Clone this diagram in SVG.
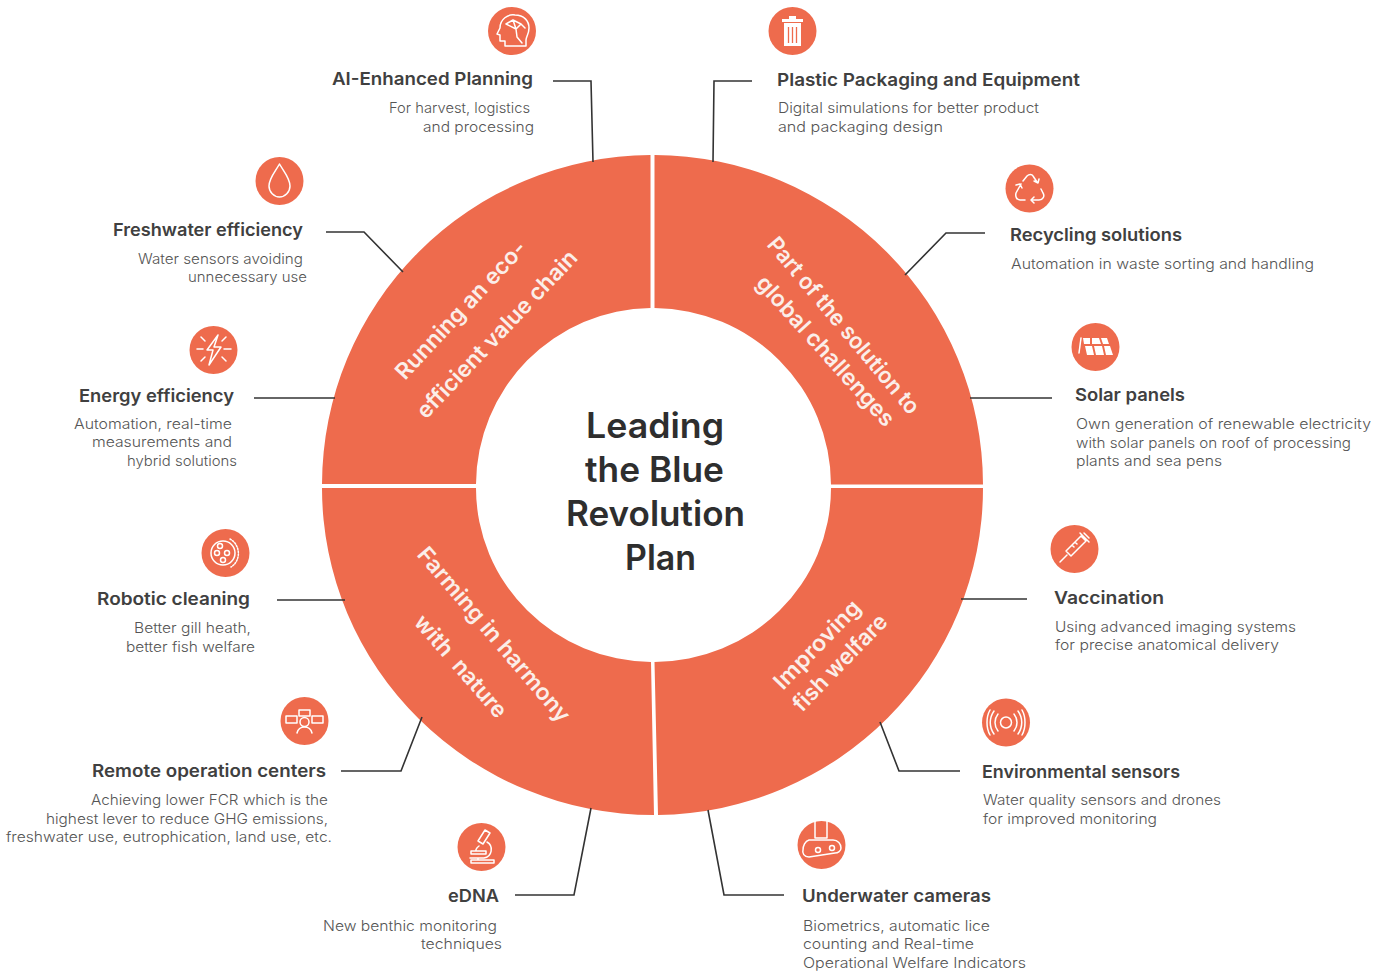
<svg xmlns="http://www.w3.org/2000/svg" width="1389" height="972" viewBox="0 0 1389 972">
<style>
text{font-family:"Inter","Lato","Liberation Sans",sans-serif}
.h{font-size:17.5px;font-weight:600;fill:#404040}
.b{font-size:14.5px;font-weight:300;fill:#555}
.c{font-size:35px;font-weight:600;fill:#2e2e2e}
.r{font-size:22.5px;font-weight:600;fill:#fbeee9}
.s{fill:#ee6b4d}
.d{fill:#ee6b4d}
.i{fill:none;stroke:#fff;stroke-width:1.5;stroke-linecap:round;stroke-linejoin:round}
.f{fill:#fff;stroke:none}
.l{fill:none;stroke:#333;stroke-width:1.6}
</style>
<rect width="1389" height="972" fill="#fff"/>
<g id="ring">
<path class="s" d="M322 484A331 330 0 0 1 650.500 155V308A177 177 0 0 0 476 484Z"/>
<path class="s" d="M654.500 155A330 330 0 0 1 983 484.500H831A178 177 0 0 0 654.500 308Z"/>
<path class="s" d="M983 488A330 327 0 0 1 658 815L654.500 662A177 174 0 0 0 831 488Z"/>
<path class="s" d="M654 815A332 327 0 0 1 322 488H476A177 174 0 0 0 651 662Z"/>
<text class="r" transform="translate(405 381) rotate(-47)" textLength="180" lengthAdjust="spacingAndGlyphs">Running an eco-</text>
<text class="r" transform="translate(426 420) rotate(-46.500)" textLength="222" lengthAdjust="spacingAndGlyphs">efficient value chain</text>
<text class="r" transform="translate(766 245) rotate(50)" textLength="223" lengthAdjust="spacingAndGlyphs">Part of the solution to</text>
<text class="r" transform="translate(755 284) rotate(48)" textLength="194" lengthAdjust="spacingAndGlyphs">global challenges</text>
<text class="r" transform="translate(416 555) rotate(49.500)" textLength="222" lengthAdjust="spacingAndGlyphs">Farming in harmony</text>
<text class="r" transform="translate(413 623) rotate(49)" textLength="128" lengthAdjust="spacingAndGlyphs" xml:space="preserve">with  nature</text>
<text class="r" transform="translate(783 691) rotate(-46)" textLength="114" lengthAdjust="spacingAndGlyphs">Improving</text>
<text class="r" transform="translate(802 713) rotate(-46)" textLength="125" lengthAdjust="spacingAndGlyphs">fish welfare</text>
</g>
<g id="center">
<text class="c" x="586" y="438" textLength="138" lengthAdjust="spacingAndGlyphs">Leading</text>
<text class="c" x="585" y="482" textLength="139" lengthAdjust="spacingAndGlyphs">the Blue</text>
<text class="c" x="566" y="526" textLength="179" lengthAdjust="spacingAndGlyphs">Revolution</text>
<text class="c" x="625" y="570" textLength="71" lengthAdjust="spacingAndGlyphs">Plan</text>
</g>
<g id="connectors">
<path class="l" d="M553 81H591L593 162"/>
<path class="l" d="M752 81H714L713 162"/>
<path class="l" d="M985 233H946L905 275"/>
<path class="l" d="M326 232H364L403 272"/>
<path class="l" d="M254 398H335"/>
<path class="l" d="M970 398H1052"/>
<path class="l" d="M277 600H345"/>
<path class="l" d="M961 599H1027"/>
<path class="l" d="M341 771H401L422 717"/>
<path class="l" d="M880 722L899 771H960"/>
<path class="l" d="M708 810L724 895H784"/>
<path class="l" d="M515 895H574L591 808"/>
</g>
<g id="ai-planning">
<circle class="d" cx="512" cy="31" r="24"/>
<path class="i" d="M505 46V41H500V35L497 34L500 28C500 19 508 14 515 15C524 15 529 21 529 28C529 34 526 37 526 40V46H505"/>
<path class="i" d="M506 24L513 20L521 24L516 29L506 24M516 29L517 37L522 43M513 20L516 29M521 24L525 28"/>
<text class="h" x="332" y="85" textLength="201" lengthAdjust="spacingAndGlyphs">AI-Enhanced Planning</text>
<text class="b" x="389" y="113" textLength="141" lengthAdjust="spacingAndGlyphs">For harvest, logistics</text>
<text class="b" x="423" y="132" textLength="111" lengthAdjust="spacingAndGlyphs">and processing</text>
</g>
<g id="plastic-packaging">
<circle class="d" cx="792.500" cy="31" r="24"/>
<path class="f" d="M782 19H789V16H796V19H803V22H782ZM784 23H801V46H784Z"/>
<path d="M788.500 27V43M792.500 27V43M796.500 27V43" fill="none" stroke="#ee6b4d" stroke-width="1.300"/>
<text class="h" x="777" y="86" textLength="303" lengthAdjust="spacingAndGlyphs">Plastic Packaging and Equipment</text>
<text class="b" x="778" y="113" textLength="261" lengthAdjust="spacingAndGlyphs">Digital simulations for better product</text>
<text class="b" x="778" y="132" textLength="165" lengthAdjust="spacingAndGlyphs">and packaging design</text>
</g>
<g id="recycling">
<circle class="d" cx="1029.500" cy="188.500" r="24"/>
<path class="i" d="M1023 181L1027 176C1029 174 1032 174 1033 176L1037 182M1034 181L1038 183L1039 179M1021 184L1016 193C1015 197 1017 200 1020 200H1025M1022 188L1020 184L1016 185M1033 200H1039C1043 200 1045 196 1043 193L1041 189M1034 197L1031 200L1034 203"/>
<text class="h" x="1010" y="241" textLength="172" lengthAdjust="spacingAndGlyphs">Recycling solutions</text>
<text class="b" x="1011" y="269" textLength="303" lengthAdjust="spacingAndGlyphs">Automation in waste sorting and handling</text>
</g>
<g id="freshwater">
<circle class="d" cx="279.500" cy="181" r="24"/>
<path class="i" d="M279.500 164C275 172 269 178 269 186C269 192 274 197 279.500 197C285 197 290 192 290 186C290 178 284 172 279.500 164Z"/>
<text class="h" x="113" y="236" textLength="190" lengthAdjust="spacingAndGlyphs">Freshwater efficiency</text>
<text class="b" x="138" y="264" textLength="165" lengthAdjust="spacingAndGlyphs">Water sensors avoiding</text>
<text class="b" x="188" y="282" textLength="119" lengthAdjust="spacingAndGlyphs">unnecessary use</text>
</g>
<g id="energy">
<circle class="d" cx="213.500" cy="350" r="24"/>
<path class="i" d="M218 335L207 350H213L209 365L221 347H214Z"/>
<path class="i" d="M197 349H203M224 349H231M201 337L205 341M201 361L205 357M226 337L222 341M226 361L222 357"/>
<text class="h" x="79" y="402" textLength="155" lengthAdjust="spacingAndGlyphs">Energy efficiency</text>
<text class="b" x="74" y="429" textLength="158" lengthAdjust="spacingAndGlyphs">Automation, real-time</text>
<text class="b" x="92" y="447" textLength="140" lengthAdjust="spacingAndGlyphs">measurements and</text>
<text class="b" x="127" y="466" textLength="110" lengthAdjust="spacingAndGlyphs">hybrid solutions</text>
</g>
<g id="solar">
<circle class="d" cx="1095.500" cy="347" r="24"/>
<path class="f" d="M1083 338H1090L1090 344H1084ZM1092 338H1099L1101 344H1092ZM1101 338H1107L1109 344H1103ZM1085 346H1092L1094 355H1087ZM1094 346H1102L1104 355H1096ZM1104 346H1110L1113 355H1106Z"/>
<path class="i" d="M1081 338L1079 353"/>
<text class="h" x="1075" y="401" textLength="110" lengthAdjust="spacingAndGlyphs">Solar panels</text>
<text class="b" x="1076" y="429" textLength="295" lengthAdjust="spacingAndGlyphs">Own generation of renewable electricity</text>
<text class="b" x="1076" y="448" textLength="275" lengthAdjust="spacingAndGlyphs">with solar panels on roof of processing</text>
<text class="b" x="1076" y="466" textLength="146" lengthAdjust="spacingAndGlyphs">plants and sea pens</text>
</g>
<g id="robotic-cleaning">
<circle class="d" cx="225.500" cy="553" r="24"/>
<circle class="i" cx="223" cy="553" r="12" stroke-width="2.200"/>
<circle class="i" cx="220" cy="546" r="2.500"/>
<circle class="i" cx="227" cy="553" r="2.500"/>
<circle class="i" cx="217" cy="553" r="2.500"/>
<circle class="i" cx="223" cy="560" r="2.500"/>
<path class="i" stroke-dasharray="1.500 1.500" stroke-width="2" d="M230 539C241 545 241 561 231 567"/>
<text class="h" x="97" y="605" textLength="153" lengthAdjust="spacingAndGlyphs">Robotic cleaning</text>
<text class="b" x="134" y="633" textLength="117" lengthAdjust="spacingAndGlyphs">Better gill heath,</text>
<text class="b" x="126" y="652" textLength="129" lengthAdjust="spacingAndGlyphs">better fish welfare</text>
</g>
<g id="vaccination">
<circle class="d" cx="1074.500" cy="549" r="24"/>
<path class="i" d="M1060 562L1067 555M1066 551L1071 556L1086 541L1081 536ZM1080 533L1089 542M1084 533L1089 538M1072 545L1074 547M1075 542L1077 544"/>
<text class="h" x="1054" y="604" textLength="110" lengthAdjust="spacingAndGlyphs">Vaccination</text>
<text class="b" x="1055" y="632" textLength="241" lengthAdjust="spacingAndGlyphs">Using advanced imaging systems</text>
<text class="b" x="1055" y="650" textLength="224" lengthAdjust="spacingAndGlyphs">for precise anatomical delivery</text>
</g>
<g id="remote-operation">
<circle class="d" cx="304.500" cy="721" r="24"/>
<path class="i" d="M286 716H297V723H286ZM299 710H310V716H299ZM312 716H323V723H312Z"/>
<circle class="i" cx="304.500" cy="722" r="4.500"/>
<path class="i" d="M297 733C298 729 301 727 304.500 727C308 727 311 729 312 733"/>
<text class="h" x="92" y="777" textLength="234" lengthAdjust="spacingAndGlyphs">Remote operation centers</text>
<text class="b" x="91" y="804.500" textLength="237" lengthAdjust="spacingAndGlyphs">Achieving lower FCR which is the</text>
<text class="b" x="46" y="823.500" textLength="282" lengthAdjust="spacingAndGlyphs">highest lever to reduce GHG emissions,</text>
<text class="b" x="6" y="842" textLength="326" lengthAdjust="spacingAndGlyphs">freshwater use, eutrophication, land use, etc.</text>
</g>
<g id="environmental-sensors">
<circle class="d" cx="1006" cy="722.500" r="24"/>
<circle class="i" cx="1006" cy="722.500" r="5.500"/>
<path class="i" d="M998 714C994 719 994 726 998 731M1014 714C1018 719 1018 726 1014 731M994 711C989 718 989 727 994 734M1018 711C1023 718 1023 727 1018 734M990 710C986 717 986 728 990 735M1022 710C1026 717 1026 728 1022 735"/>
<text class="h" x="982" y="778" textLength="198" lengthAdjust="spacingAndGlyphs">Environmental sensors</text>
<text class="b" x="983" y="805" textLength="238" lengthAdjust="spacingAndGlyphs">Water quality sensors and drones</text>
<text class="b" x="983" y="824" textLength="174" lengthAdjust="spacingAndGlyphs">for improved monitoring</text>
</g>
<g id="edna">
<circle class="d" cx="481.500" cy="847" r="24"/>
<path class="i" d="M485 830L490 833L483 844L478 841ZM487 842C494 846 492 857 484 858H470M471 851H486V854H471ZM471 863H494V860H471ZM478 858V860M479 846C476 848 475 851 477 851"/>
<text class="h" x="448" y="902" textLength="51" lengthAdjust="spacingAndGlyphs">eDNA</text>
<text class="b" x="323" y="930.500" textLength="174" lengthAdjust="spacingAndGlyphs">New benthic monitoring</text>
<text class="b" x="421" y="949" textLength="81" lengthAdjust="spacingAndGlyphs">techniques</text>
</g>
<g id="underwater-cameras">
<circle class="d" cx="821.500" cy="845" r="24"/>
<path class="i" d="M815 821V838H827V821M809 840H833C838 840 841 844 841 848C841 851 838 853 835 853L809 857C804 857 802 853 803 850C803 846 805 841 809 840Z"/>
<circle class="i" cx="818" cy="850" r="2.500"/>
<circle class="i" cx="832" cy="848" r="2.500"/>
<text class="h" x="802" y="902" textLength="189" lengthAdjust="spacingAndGlyphs">Underwater cameras</text>
<text class="b" x="803" y="930.500" textLength="187" lengthAdjust="spacingAndGlyphs">Biometrics, automatic lice</text>
<text class="b" x="803" y="949" textLength="171" lengthAdjust="spacingAndGlyphs">counting and Real-time</text>
<text class="b" x="803" y="967.500" textLength="223" lengthAdjust="spacingAndGlyphs">Operational Welfare Indicators</text>
</g>
</svg>
